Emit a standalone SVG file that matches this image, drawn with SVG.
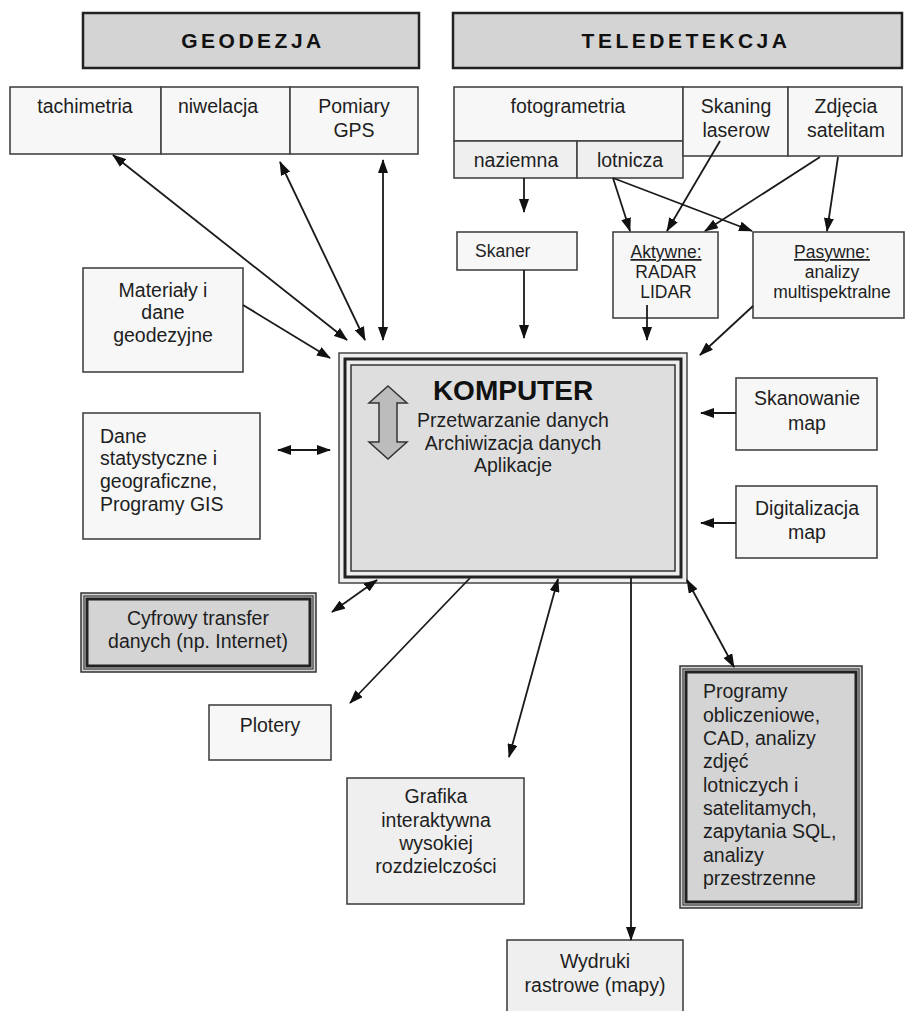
<svg xmlns="http://www.w3.org/2000/svg" width="906" height="1011" viewBox="0 0 906 1011">
  <defs>
    <style>
      text { font-family: "Liberation Sans", Arial, sans-serif; fill: #1e1e1e; font-size: 19.5px; }
      .m { text-anchor: middle; }
      .s { font-size: 17.5px; }
      .title { font-size: 21px; font-weight: bold; letter-spacing: 3.5px; text-anchor: middle; fill: #111; }
      .big { font-size: 28px; font-weight: bold; text-anchor: middle; fill: #111; }
      .head { fill: #d4d4d4; stroke: #222; stroke-width: 2.5; }
      .box { fill: #f7f7f7; stroke: #444; stroke-width: 1.6; }
      .box2 { fill: #efefef; stroke: #444; stroke-width: 1.6; }
      .dark { fill: #d4d4d4; stroke: #333; stroke-width: 1.5; }
      .frame { fill: none; stroke: #222; stroke-width: 3; }
      .thin { fill: none; stroke: #444; stroke-width: 1.3; }
      .c { stroke: #1a1a1a; stroke-width: 1.8; fill: none; }
    </style>
    <marker id="ah" viewBox="0 0 14 10" refX="13" refY="5" markerWidth="14" markerHeight="10" markerUnits="userSpaceOnUse" orient="auto-start-reverse">
      <path d="M0,0 L14,5 L0,10 z" fill="#111"/>
    </marker>
  </defs>

  <rect width="906" height="1011" fill="#ffffff"/>

  <!-- section headers -->
  <g id="geodezja">
    <rect class="head" x="83" y="13" width="336" height="55"/>
    <text class="title" x="253" y="48">GEODEZJA</text>
  </g>
  <g id="teledetekcja">
    <rect class="head" x="453" y="13" width="449" height="55"/>
    <text class="title" x="686" y="48">TELEDETEKCJA</text>
  </g>

  <!-- geodesy methods -->
  <g id="tachimetria">
    <rect class="box" x="10" y="87" width="151" height="67"/>
    <text class="m" x="85" y="113">tachimetria</text>
  </g>
  <g id="niwelacja">
    <rect class="box" x="161" y="87" width="129" height="67"/>
    <text class="m" x="218" y="113">niwelacja</text>
  </g>
  <g id="gps">
    <rect class="box" x="290" y="87" width="128" height="67"/>
    <text class="m" x="354" y="113">Pomiary</text>
    <text class="m" x="354" y="137">GPS</text>
  </g>

  <!-- remote sensing methods -->
  <g id="fotogrametria">
    <rect class="box" x="454" y="87" width="229" height="54"/>
    <text class="m" x="568" y="113">fotogrametria</text>
  </g>
  <g id="naziemna">
    <rect class="box2" x="454" y="141" width="123" height="37"/>
    <text class="m" x="516" y="167">naziemna</text>
  </g>
  <g id="lotnicza">
    <rect class="box2" x="577" y="141" width="106" height="37"/>
    <text class="m" x="630" y="167">lotnicza</text>
  </g>
  <g id="skaning">
    <rect class="box" x="683" y="87" width="105" height="69"/>
    <text class="m" x="736" y="113">Skaning</text>
    <text class="m" x="736" y="137">laserow</text>
  </g>
  <g id="zdjecia">
    <rect class="box" x="788" y="87" width="114" height="69"/>
    <text class="m" x="846" y="113">Zdjęcia</text>
    <text class="m" x="846" y="137">satelitam</text>
  </g>

  <g id="skaner">
    <rect class="box" x="457" y="232" width="120" height="38"/>
    <text class="s" x="475" y="257">Skaner</text>
  </g>
  <g id="aktywne">
    <rect class="box" x="613" y="232" width="105" height="86"/>
    <text class="m s" x="666" y="258" text-decoration="underline">Aktywne:</text>
    <text class="m s" x="666" y="278">RADAR</text>
    <text class="m s" x="666" y="298">LIDAR</text>
  </g>
  <g id="pasywne">
    <rect class="box" x="753" y="232" width="151" height="86"/>
    <text class="m s" x="832" y="258" text-decoration="underline">Pasywne:</text>
    <text class="m s" x="832" y="278">analizy</text>
    <text class="m s" x="832" y="298">multispektralne</text>
  </g>

  <!-- left inputs -->
  <g id="materialy">
    <rect class="box" x="83" y="268" width="160" height="104"/>
    <text class="m" x="163" y="297">Materiały i</text>
    <text class="m" x="163" y="319">dane</text>
    <text class="m" x="163" y="342">geodezyjne</text>
  </g>
  <g id="dane">
    <rect class="box" x="83" y="413" width="177" height="126"/>
    <text x="100" y="443">Dane</text>
    <text x="100" y="465">statystyczne i</text>
    <text x="100" y="488">geograficzne,</text>
    <text x="100" y="511">Programy GIS</text>
  </g>
  <g id="cyfrowy">
    <rect class="dark" x="81" y="593" width="235" height="79"/>
    <rect class="thin" x="84" y="596" width="229" height="73" stroke="#888"/>
    <rect class="frame" x="87" y="599" width="223" height="67" stroke-width="2"/>
    <text class="m" x="198" y="625">Cyfrowy transfer</text>
    <text class="m" x="198" y="648">danych (np. Internet)</text>
  </g>

  <!-- central computer -->
  <g id="komputer">
    <rect x="339" y="353" width="348" height="230" fill="#eeeeee" stroke="#444" stroke-width="1.5"/>
    <rect class="frame" x="345" y="359" width="336" height="218" stroke-width="3.5"/>
    <rect x="351" y="365" width="324" height="206" fill="#dedede" stroke="#333" stroke-width="1.5"/>
    <path d="M388,386 L407,403 L397,403 L397,442 L407,442 L388,459 L369,442 L379,442 L379,403 L369,403 Z" fill="#bcbcbc" stroke="#333" stroke-width="1.5"/>
    <text class="big" x="513" y="400">KOMPUTER</text>
    <text class="m" x="513" y="427">Przetwarzanie danych</text>
    <text class="m" x="513" y="450">Archiwizacja danych</text>
    <text class="m" x="513" y="472">Aplikacje</text>
  </g>

  <!-- right inputs -->
  <g id="skanowanie">
    <rect class="box" x="736" y="378" width="141" height="72"/>
    <text class="m" x="807" y="405">Skanowanie</text>
    <text class="m" x="807" y="430">map</text>
  </g>
  <g id="digitalizacja">
    <rect class="box" x="736" y="486" width="141" height="72"/>
    <text class="m" x="807" y="515">Digitalizacja</text>
    <text class="m" x="807" y="539">map</text>
  </g>

  <!-- outputs -->
  <g id="plotery">
    <rect class="box" x="209" y="705" width="122" height="55"/>
    <text class="m" x="270" y="732">Plotery</text>
  </g>
  <g id="grafika">
    <rect class="box2" x="347" y="778" width="177" height="126"/>
    <text class="m" x="436" y="803">Grafika</text>
    <text class="m" x="436" y="827">interaktywna</text>
    <text class="m" x="436" y="850">wysokiej</text>
    <text class="m" x="436" y="873">rozdzielczości</text>
  </g>
  <g id="programy">
    <rect class="dark" x="680" y="666" width="182" height="242"/>
    <rect class="thin" x="683" y="669" width="176" height="236" stroke="#888"/>
    <rect class="frame" x="686" y="672" width="170" height="230" stroke-width="2"/>
    <text x="703" y="698">Programy</text>
    <text x="703" y="722">obliczeniowe,</text>
    <text x="703" y="745">CAD, analizy</text>
    <text x="703" y="768">zdjęć</text>
    <text x="703" y="792">lotniczych i</text>
    <text x="703" y="815">satelitamych,</text>
    <text x="703" y="838">zapytania SQL,</text>
    <text x="703" y="862">analizy</text>
    <text x="703" y="885">przestrzenne</text>
  </g>
  <g id="wydruki">
    <rect class="box2" x="507" y="940" width="176" height="80"/>
    <text class="m" x="595" y="968">Wydruki</text>
    <text class="m" x="595" y="992">rastrowe (mapy)</text>
  </g>

  <!-- connectors -->
  <g id="connectors">
    <!-- geodesy <-> computer -->
    <line class="c" x1="113" y1="155" x2="347" y2="340" marker-start="url(#ah)" marker-end="url(#ah)"/>
    <line class="c" x1="280" y1="162" x2="365" y2="340" marker-start="url(#ah)" marker-end="url(#ah)"/>
    <line class="c" x1="383" y1="160" x2="383" y2="340" marker-start="url(#ah)" marker-end="url(#ah)"/>
    <line class="c" x1="243" y1="305" x2="330" y2="358" marker-end="url(#ah)"/>
    <line class="c" x1="278" y1="450" x2="330" y2="450" marker-start="url(#ah)" marker-end="url(#ah)"/>

    <!-- remote sensing chain -->
    <line class="c" x1="524" y1="178" x2="524" y2="212" marker-end="url(#ah)"/>
    <line class="c" x1="524" y1="270" x2="524" y2="338" marker-end="url(#ah)"/>
    <line class="c" x1="613" y1="178" x2="630" y2="231" marker-end="url(#ah)"/>
    <line class="c" x1="613" y1="178" x2="752" y2="231" marker-end="url(#ah)"/>
    <line class="c" x1="720" y1="141" x2="667" y2="231" marker-end="url(#ah)"/>
    <line class="c" x1="820" y1="157" x2="705" y2="231" marker-end="url(#ah)"/>
    <line class="c" x1="838" y1="157" x2="827" y2="231" marker-end="url(#ah)"/>
    <line class="c" x1="647" y1="305" x2="647" y2="340" marker-end="url(#ah)"/>
    <line class="c" x1="753" y1="306" x2="700" y2="355" marker-end="url(#ah)"/>

    <!-- map inputs -->
    <line class="c" x1="736" y1="413" x2="701" y2="413" marker-end="url(#ah)"/>
    <line class="c" x1="736" y1="523" x2="701" y2="523" marker-end="url(#ah)"/>

    <!-- outputs -->
    <line class="c" x1="377" y1="580" x2="332" y2="612" marker-start="url(#ah)" marker-end="url(#ah)"/>
    <line class="c" x1="470" y1="578" x2="350" y2="703" marker-end="url(#ah)"/>
    <line class="c" x1="558" y1="579" x2="509" y2="757" marker-start="url(#ah)" marker-end="url(#ah)"/>
    <line class="c" x1="631" y1="577" x2="631" y2="940" marker-end="url(#ah)"/>
    <line class="c" x1="687" y1="580" x2="734" y2="667" marker-start="url(#ah)" marker-end="url(#ah)"/>
  </g>
</svg>
